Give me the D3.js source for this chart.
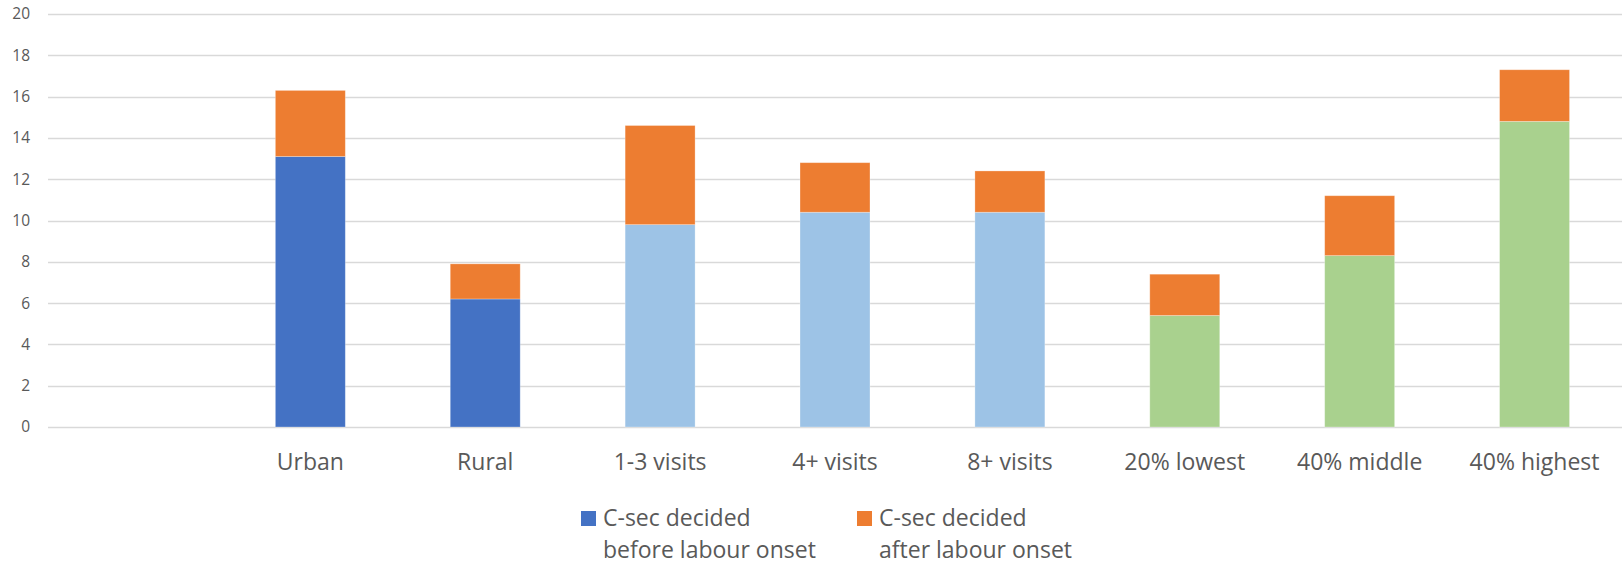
<!DOCTYPE html>
<html>
<head>
<meta charset="utf-8">
<script src="https://cdn.jsdelivr.net/npm/d3@7"></script>
<style>
  html, body { margin: 0; padding: 0; background: #ffffff; }
  svg { display: block; }
  text { font-family: "Open Sans", Lato, sans-serif; fill: #595959; }
</style>
</head>
<body>
<svg id="chart" width="1622" height="564"></svg>
<script>
// Caesarean section rates (%), split by when the decision was taken
const categories = ["", "Urban", "Rural", "1-3 visits", "4+ visits", "8+ visits", "20% lowest", "40% middle", "40% highest"];
const beforeOnset = [null, 13.1, 6.2, 9.8, 10.4, 10.4, 5.4, 8.3, 14.8];
const afterOnset  = [null, 3.2, 1.7, 4.8, 2.4, 2.0, 2.0, 2.9, 2.5];
// Fill for the "before onset" segment by category group
const groupColors = [null, "#4472C4", "#4472C4", "#9DC3E6", "#9DC3E6", "#9DC3E6", "#A9D18E", "#A9D18E", "#A9D18E"];
const afterColor = "#ED7D31";
const yTicks = [0, 2, 4, 6, 8, 10, 12, 14, 16, 18, 20];
const legendItems = [
  { color: "#4472C4", lines: ["C-sec decided", "before labour onset"] },
  { color: "#ED7D31", lines: ["C-sec decided", "after labour onset"] }
];

const svg = d3.select("#chart");
const plot = { left: 48, right: 1622, top: 14, bottom: 427 };
const fontFamily = "'Open Sans', Lato, sans-serif";

const x = d3.scaleBand()
  .domain(categories)
  .range([plot.left, plot.right])
  .paddingInner(0.6)
  .paddingOuter(0.3);

const y = d3.scaleLinear()
  .domain([0, 20])
  .range([plot.bottom, plot.top]);

// Horizontal gridlines
svg.append("g")
  .selectAll("line")
  .data(yTicks)
  .join("line")
  .attr("x1", plot.left)
  .attr("x2", plot.right)
  .attr("y1", d => Math.round(y(d)) + 0.5)
  .attr("y2", d => Math.round(y(d)) + 0.5)
  .attr("stroke", "#d9d9d9")
  .attr("stroke-width", 1.4);

// Y axis labels
const yAxis = d3.axisLeft(y).tickValues(yTicks).tickSize(0).tickPadding(0);
svg.append("g")
  .attr("transform", `translate(30,0)`)
  .call(yAxis)
  .call(g => g.select(".domain").remove())
  .call(g => g.selectAll("text")
    .attr("font-size", 15.5)
    .attr("fill", "#595959")
    .style("font-family", fontFamily));

// Stacked bars
const rows = categories.map((c, i) => ({
  cat: c, before: beforeOnset[i], after: afterOnset[i], color: groupColors[i]
})).filter(d => d.before != null);

const bars = svg.append("g");
bars.selectAll("rect.before")
  .data(rows)
  .join("rect")
  .attr("class", "before")
  .attr("x", d => x(d.cat))
  .attr("width", x.bandwidth())
  .attr("y", d => y(d.before))
  .attr("height", d => y(0) - y(d.before))
  .attr("fill", d => d.color)
  .attr("stroke", "rgba(255,255,255,0.35)")
  .attr("stroke-width", 0.8);

bars.selectAll("rect.after")
  .data(rows)
  .join("rect")
  .attr("class", "after")
  .attr("x", d => x(d.cat))
  .attr("width", x.bandwidth())
  .attr("y", d => y(d.before + d.after))
  .attr("height", d => y(d.before) - y(d.before + d.after))
  .attr("fill", afterColor)
  .attr("stroke", "rgba(255,255,255,0.35)")
  .attr("stroke-width", 0.8);

// Category labels
const xAxis = d3.axisBottom(x).tickSize(0).tickPadding(0);
svg.append("g")
  .attr("transform", `translate(0,${plot.bottom})`)
  .call(xAxis)
  .call(g => g.select(".domain").remove())
  .call(g => g.selectAll("text")
    .attr("y", 43)
    .attr("dy", 0)
    .attr("font-size", 23)
    .attr("fill", "#595959")
    .style("font-family", fontFamily));

// Legend
const legendX = [581, 857];
const legend = svg.append("g");
legendItems.forEach((item, i) => {
  const g = legend.append("g").attr("transform", `translate(${legendX[i]},511)`);
  g.append("rect")
    .attr("width", 15)
    .attr("height", 15)
    .attr("fill", item.color);
  const t = g.append("text")
    .attr("x", 22)
    .attr("y", 15)
    .attr("font-size", 23);
  item.lines.forEach((line, j) => {
    t.append("tspan")
      .attr("x", 22)
      .attr("dy", j === 0 ? 0 : 32)
      .text(line);
  });
});
</script>
</body>
</html>
